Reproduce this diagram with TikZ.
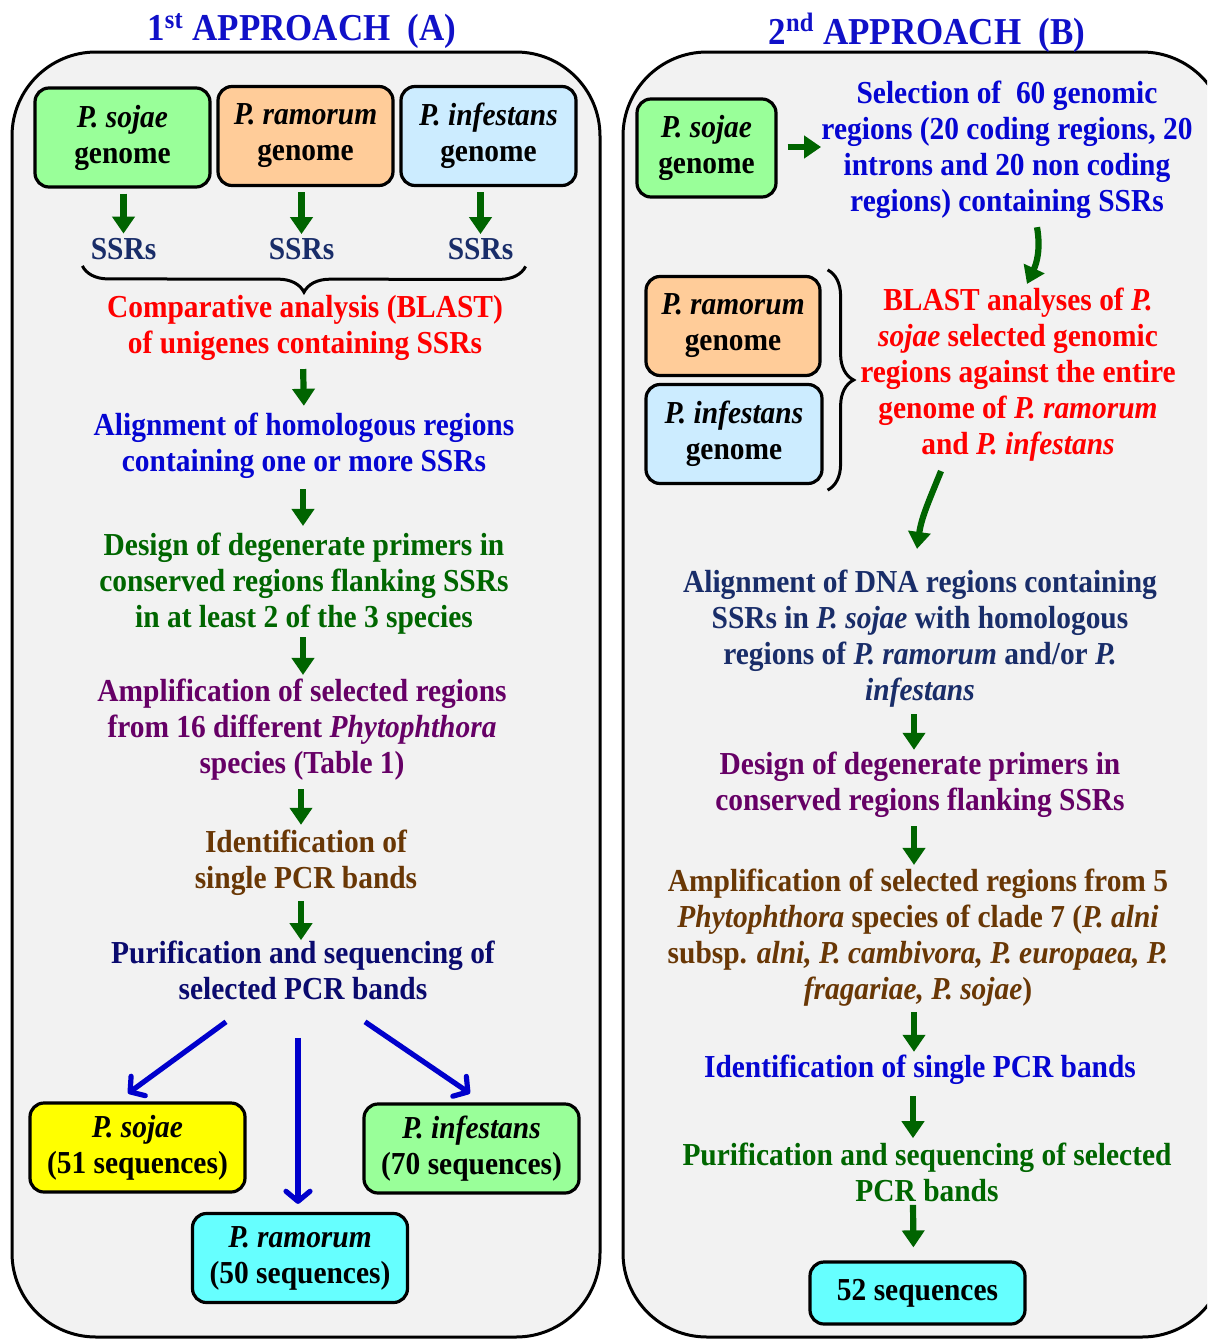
\documentclass[tikz,border=0pt]{standalone}
\usepackage{fontspec}
\setmainfont{Liberation Serif}[FakeStretch=0.92]
\usepackage{xcolor}
\usetikzlibrary{arrows.meta, positioning, decorations.pathreplacing}

\definecolor{panelgray}{RGB}{242,242,242}
\definecolor{titleblue}{RGB}{16,16,200}
\definecolor{ssrnavy}{RGB}{25,45,105}
\definecolor{txtred}{RGB}{255,0,0}
\definecolor{txtblue}{RGB}{5,5,210}
\definecolor{txtgreen}{RGB}{0,102,0}
\definecolor{txtpurple}{RGB}{102,0,102}
\definecolor{txtbrown}{RGB}{105,55,5}
\definecolor{txtnavy}{RGB}{10,10,110}
\definecolor{arrowgreen}{RGB}{0,100,0}
\definecolor{arrowblue}{RGB}{0,0,204}
\definecolor{sojagreen}{RGB}{153,255,153}
\definecolor{ramorange}{RGB}{255,204,153}
\definecolor{infblue}{RGB}{204,236,255}
\definecolor{seqyellow}{RGB}{255,255,0}
\definecolor{seqcyan}{RGB}{102,255,255}

\begin{document}
\begin{tikzpicture}[x=0.5pt, y=-0.5pt,
        font=\bfseries\fontsize{16}{18}\selectfont,
        panel/.style={draw, line width=1.5pt, fill=panelgray, rounded corners=42pt},
        genome/.style={rectangle, draw, line width=1.6pt, rounded corners=7pt, align=center, inner sep=0pt, minimum width=87.5pt, minimum height=49.5pt},
        result/.style={genome, minimum width=107.5pt, minimum height=44.5pt},
        stage/.style={align=center, inner sep=0pt},
        title/.style={text=titleblue, inner sep=0pt, font=\bfseries\fontsize{19}{22}\selectfont},
        line/.style={draw=arrowgreen, line width=3.1pt, -{Triangle[length=8.5pt,width=11pt]}},
        spread/.style={draw=arrowblue, line width=2.6pt, -{Straight Barb[length=5pt,width=12pt,round]}},
        brace/.style={draw, line width=1.5pt, decorate, decoration={brace, amplitude=13pt}}]

        % Panels
        \useasboundingbox (0,0) rectangle (1207,1339);
        \clip (0,0) rectangle (1207,1339);
        \draw[panel] (12,52) rectangle (600,1337);
        \draw[panel] (623,52) rectangle (1226,1337);

        % Titles
        \node[title] (titleA) at (302,31) {1\textsuperscript{st} APPROACH\ \ (A)};
        \node[title] (titleB) at (927,33) {2\textsuperscript{nd} APPROACH\ \ (B)};

        % Approach A: nodes
        \node[genome, fill=sojagreen] (gsojA) at (122.5,137.5) {\textit{P. sojae}\\genome};
        \node[genome, fill=ramorange] (gramA) at (305.5,136) {\textit{P. ramorum}\\genome};
        \node[genome, fill=infblue] (ginfA) at (488.5,136) {\textit{P. infestans}\\genome};
        \node[stage, text=ssrnavy, below=24.5pt of gsojA, xshift=0.5pt] (ssrA1) {SSRs};
        \node[stage, text=ssrnavy, below=25.5pt of gramA, xshift=-2pt] (ssrA2) {SSRs};
        \node[stage, text=ssrnavy, below=25.5pt of ginfA, xshift=-4pt] (ssrA3) {SSRs};
        \node[stage, text=txtred] (compA) at (305,328) {Comparative analysis (BLAST)\\of unigenes containing SSRs};
        \node[stage, text=txtblue] (alignA) at (304,446) {Alignment of homologous regions\\containing one or more SSRs};
        \node[stage, text=txtgreen] (designA) at (304,584) {Design of degenerate primers in\\conserved regions flanking SSRs\\in at least 2 of the 3 species};
        \node[stage, text=txtpurple] (amplA) at (302,730) {Amplification of selected regions\\from 16 different \textit{Phytophthora}\\species (Table 1)};
        \node[stage, text=txtbrown] (identA) at (306,863) {Identification of\\single PCR bands};
        \node[stage, text=txtnavy] (purifA) at (303,970) {Purification and sequencing of\\selected PCR bands};
        \node[result, fill=seqyellow] (sojR) at (137.5,1147.5) {\textit{P. sojae}\\(51 sequences)};
        \node[result, fill=sojagreen] (infR) at (471.5,1148.5) {\textit{P. infestans}\\(70 sequences)};
        \node[result, fill=seqcyan] (ramR) at (300,1258) {\textit{P. ramorum}\\(50 sequences)};

        % Approach A: edges
        \path[line, shorten <=2.5pt, shorten >=2pt] (ssrA1.north |- gsojA.south) -- (ssrA1.north);
        \path[line, shorten <=2.5pt, shorten >=2pt] (ssrA2.north |- gramA.south) -- (ssrA2.north);
        \path[line, shorten <=2.5pt, shorten >=2pt] (ssrA3.north |- ginfA.south) -- (ssrA3.north);
        \draw[brace] ([xshift=6pt,yshift=-3pt]ssrA3.south east) -- ([xshift=-4pt,yshift=-3pt]ssrA1.south west);
        \path[line, shorten <=4pt, shorten >=3.5pt] ([xshift=-1pt]compA.south) -- (alignA.north);
        \path[line, shorten <=5pt, shorten >=3.5pt] ([xshift=-0.5pt]alignA.south) -- ([xshift=-0.5pt]designA.north);
        \path[line, shorten <=1pt, shorten >=2pt] ([xshift=-0.5pt]designA.south) -- ([xshift=0.5pt]amplA.north);
        \path[line, shorten <=4pt, shorten >=2.5pt] ([xshift=-0.5pt]amplA.south) -- ([xshift=-2.5pt]identA.north);
        \path[line, shorten <=2.5pt, shorten >=0pt] ([xshift=-2.5pt]identA.south) -- ([xshift=-1pt]purifA.north);
        \path[spread] ([xshift=-38.5pt,yshift=-11pt]purifA.south) -- ([xshift=-4.75pt,yshift=4pt]sojR.north);
        \path[spread] ([xshift=-2.5pt,yshift=-19pt]purifA.south) -- ([xshift=-1pt,yshift=4pt]ramR.north);
        \path[spread] ([xshift=31pt,yshift=-11pt]purifA.south) -- ([xshift=-0.75pt,yshift=4.5pt]infR.north);

        % Approach B: nodes
        \node[genome, fill=sojagreen, minimum width=69.5pt, minimum height=49pt] (gsojB) at (706.5,148) {\textit{P. sojae}\\genome};
        \node[stage, text=txtblue] (selB) at (1007,150) {Selection of\ \ 60 genomic\\regions (20 coding regions, 20\\introns and 20 non coding\\regions) containing SSRs};
        \node[genome, fill=ramorange, minimum width=87pt] (gramB) at (733,326) {\textit{P. ramorum}\\genome};
        \node[genome, fill=infblue, minimum width=88pt] (ginfB) at (734,434) {\textit{P. infestans}\\genome};
        \node[stage, text=txtred] (blastB) at (1018,375) {BLAST analyses of \textit{P.}\\\textit{sojae} selected genomic\\regions against the entire\\genome of \textit{P. ramorum}\\and \textit{P. infestans}};
        \node[stage, text=ssrnavy] (alignB) at (920,639) {Alignment of DNA regions containing\\SSRs in \textit{P. sojae} with homologous\\regions of \textit{P. ramorum} and/or \textit{P.}\\\textit{infestans}};
        \node[stage, text=txtpurple] (designB) at (920,785) {Design of degenerate primers in\\conserved regions flanking SSRs};
        \node[stage, text=txtbrown] (amplB) at (918,938) {Amplification of selected regions from 5\\\textit{Phytophthora} species of clade 7 (\textit{P. alni}\\subsp. \textit{alni, P. cambivora, P. europaea, P.}\\\textit{fragariae, P. sojae})};
        \node[stage, text=txtblue] (identB) at (920,1070) {Identification of single PCR bands};
        \node[stage, text=txtgreen] (purifB) at (927,1172) {Purification and sequencing of selected\\PCR bands};
        \node[result, fill=seqcyan, minimum height=31pt] (seqB) at (917.5,1293) {52 sequences};

        % Approach B: edges
        \path[line, shorten <=5pt] ([yshift=0.5pt]gsojB.east) -- ([yshift=0.5pt]gsojB.east -| selB.west);
        \path[line] ([xshift=15pt,yshift=-4pt]selB.south) to[out=-80, in=65] ([xshift=4.5pt,yshift=2pt]blastB.north);
        \draw[brace] ([xshift=3pt,yshift=2.5pt]gramB.north east) -- ([xshift=2pt,yshift=-2.5pt]ginfB.south east);
        \path[line] ([xshift=-38.5pt,yshift=-4.5pt]blastB.south) to[out=-112, in=82] ([xshift=-1.5pt,yshift=10.5pt]alignB.north);
        \path[line, shorten <=3pt, shorten >=1pt] ([xshift=-3pt]alignB.south) -- ([xshift=-3pt]designB.north);
        \path[line, shorten <=4pt, shorten >=2pt] ([xshift=-3pt]designB.south) -- ([xshift=-2pt]amplB.north);
        \path[line, shorten <=2.5pt, shorten >=1.5pt] ([xshift=-2pt]amplB.south) -- ([xshift=-3pt]identB.north);
        \path[line, shorten <=5.5pt, shorten >=2pt] ([xshift=-3.5pt]identB.south) -- ([xshift=-7pt]purifB.north);
        \path[line, shorten <=1.5pt, shorten >=6.5pt] ([xshift=-7pt]purifB.south) -- ([xshift=-2pt]seqB.north);

    \end{tikzpicture}
\end{document}
